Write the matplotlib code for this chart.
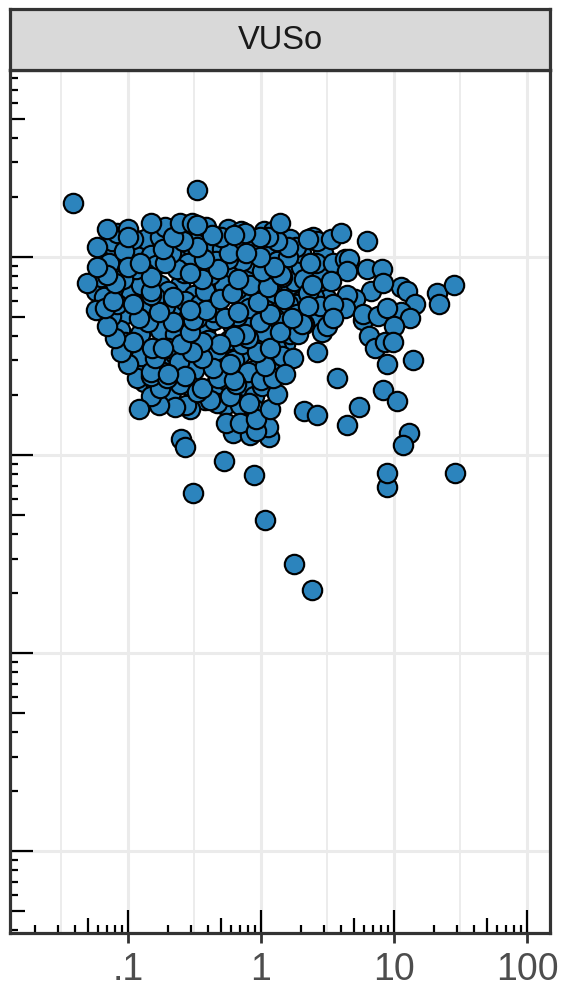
import numpy as np
import matplotlib
matplotlib.use('Agg')
import matplotlib.pyplot as plt

plt.rcParams['font.family'] = ['Liberation Sans', 'DejaVu Sans']

# values are log10 of the data
# stray points around the main cloud
tail_x = [-1.41, -0.48, -0.60, -0.57, -0.51, -0.28, -0.05, 0.03, 0.25, 0.38,
          0.95, 0.95, 1.46, 0.32, 0.42, 0.65, 0.74, 0.57, 1.11, 1.07,
          0.92, 1.02, 0.95, 1.14, 1.32, 1.34, 1.45, 0.42]
tail_y = [0.27, 0.34, -0.92, -0.96, -1.19, -1.03, -1.10, -1.33, -1.55, -1.68,
          -1.16, -1.09, -1.09, -0.78, -0.80, -0.85, -0.76, -0.61, -0.89, -0.95,
          -0.67, -0.73, -0.54, -0.52, -0.18, -0.24, -0.14, -0.48]

# right hand lobe
right_x = [0.39, 0.42, 0.53, 0.60, 0.80, 0.41, 0.54, 0.63, 0.66, 0.65,
           0.80, 0.91, 1.05, 1.10, 1.16, 0.83, 0.71, 0.65, 0.63, 0.77,
           0.77, 0.88, 1.05, 1.12, 0.95, 1.00, 0.81, 0.86, 0.93, 0.99,
           0.92, 0.32, 0.35, 0.44, 0.54, 0.53, 0.46, 0.50, 0.54, 0.24,
           0.32, 0.28, 0.38, 0.26, 0.20, 0.16, 0.35, 0.37, 0.35]
right_y = [0.10, 0.08, 0.09, 0.12, 0.08, -0.03, -0.03, -0.01, -0.01, -0.07,
           -0.06, -0.06, -0.15, -0.17, -0.24, -0.17, -0.21, -0.19, -0.26, -0.32,
           -0.29, -0.30, -0.28, -0.31, -0.26, -0.35, -0.40, -0.46, -0.43, -0.43,
           -0.13, -0.11, -0.18, -0.25, -0.24, -0.12, -0.38, -0.35, -0.31, -0.51,
           -0.34, -0.39, -0.14, 0.05, 0.00, -0.10, 0.09, -0.03, -0.25]

# inside of the cloud, mostly covered
back_x = [-1.10, -1.06, -0.95, -0.87, -0.83, -0.76, -0.68, -0.62, -0.53, -0.46,
          -0.40, -0.29, -0.20, -0.05, 0.05, 0.14, -1.06, -0.97, -0.89, -0.76,
          -0.61, -0.50, -0.37, -0.25, -0.12, -0.05, 0.08, 0.22, 0.29, -1.02,
          -1.06, -0.91, -0.76, -0.65, -0.42, -0.35, -0.22, -0.08, 0.08, 0.18,
          -0.87, -0.72, -0.65, -0.50, -0.38, -0.27, -0.16, -0.05, 0.03, -0.68,
          -0.53, -0.42, -0.35, -0.12, -0.05, 0.01, -0.27, -0.16, -0.05, 0.14,
          0.26, 0.41, 0.22, -0.12, -0.68, -0.57, -0.46, -0.98, -0.83]
back_y = [0.04, -0.03, 0.04, 0.09, 0.01, 0.10, 0.13, 0.03, 0.06, 0.10,
          0.04, 0.04, 0.06, 0.06, 0.01, -0.01, -0.17, -0.12, -0.18, -0.14,
          -0.14, -0.19, -0.17, -0.09, -0.07, -0.17, -0.19, -0.17, -0.22, -0.29,
          -0.37, -0.39, -0.37, -0.39, -0.37, -0.32, -0.34, -0.32, -0.37, -0.44,
          -0.52, -0.52, -0.49, -0.57, -0.49, -0.47, -0.49, -0.57, -0.49, -0.68,
          -0.65, -0.72, -0.65, -0.65, -0.70, -0.65, -0.75, -0.75, -0.77, -0.27,
          -0.24, -0.32, -0.39, -0.22, -0.27, -0.22, -0.24, -0.19, -0.24]

# second covered layer, fills the gaps between the others
mid_x = [-1.24, -1.20, -1.18, -1.14, -1.12, -1.08, -1.13, -1.08, -1.02, -0.99,
         -0.94, -0.90, -0.88, -0.80, -0.74, -0.70, -0.62, -0.58, -0.55, -0.45,
         -0.40, -0.36, -0.33, -0.30, -0.26, -0.24, -0.20, -0.18, -0.14, -0.10,
         -0.09, -0.06, -0.02, 0.00, 0.02, 0.04, 0.06, 0.11, 0.12, 0.16,
         0.18, 0.20, 0.21, 0.25, 0.27, 0.30, 0.12, 0.06, 0.00, -0.06,
         -0.14, -0.18, -0.25, -0.28, -0.34, -0.38, -0.42, -0.47, -0.49, -0.55,
         -0.58, -0.63, -0.68, -0.70, -0.72, -0.79, -0.80, -0.87, -0.90, -0.94,
         -0.96, -1.03, -1.04, -0.72, -0.41, -0.25, -0.15, 0.02, 0.09, 0.22,
         0.30, 0.47, 0.50, 0.40, 0.43, 0.47]
mid_y = [-0.17, -0.10, -0.20, -0.03, 0.08, 0.12, -0.30, -0.24, -0.43, -0.48,
         -0.55, -0.50, -0.63, -0.63, -0.58, -0.46, -0.53, -0.44, -0.31, -0.47,
         -0.42, -0.28, -0.47, -0.57, -0.62, -0.42, -0.52, -0.30, -0.44, -0.58,
         -0.26, -0.40, -0.46, -0.62, -0.38, -0.27, -0.54, -0.46, -0.28, -0.50,
         -0.33, -0.24, -0.08, -0.12, -0.29, -0.05, -0.02, -0.12, -0.12, -0.03,
         -0.02, -0.16, -0.01, -0.14, -0.02, -0.09, -0.17, 0.02, -0.08, -0.03,
         -0.08, -0.06, 0.02, -0.17, -0.25, -0.04, -0.20, -0.08, -0.14, -0.06,
         0.09, 0.03, -0.11, 0.15, 0.15, 0.14, 0.13, 0.13, 0.13, 0.09,
         0.02, -0.15, -0.21, -0.20, -0.08, 0.02]

# points that lie on top and can be read whole
front_x = [-0.21, -0.08, 0.06, 0.05, -0.26, -0.16, -0.04, -0.04, 0.07, -0.09,
           0.12, -0.33, -0.38, -0.53, -0.56, -0.65, -0.77, -0.83, -0.92, -0.76,
           -0.61, -0.48, -0.23, -0.44, -0.19, -0.32, 0.09, 0.18, -0.93, -0.83,
           -0.71, -0.57, 0.03, -0.20, -0.36, -0.44, -0.83, -0.70, -1.00, -1.05,
           -0.80, -0.23, -0.03, 0.07, -0.10, -0.12, -0.20, -0.31, -0.44, -0.52,
           -0.60, -0.82, -0.74, -0.96, -1.10, -1.16, -0.53, 0.14, 0.31, 0.23,
           -0.01, -0.27, -0.48, -0.51, -0.66, -0.85, -0.92, -0.77, -0.17, 0.07,
           -0.41, -0.53, -0.96, -1.24, -1.17, -1.11, -0.66, -0.83, -0.31, -0.02,
           0.17, -0.22, -0.83, -0.08, 0.05, -1.10, -1.31, -0.44, -0.17, 0.15,
           -0.53, -0.32, 0.01, 0.10, -0.83, -1.16, -1.23, -1.00, -0.91, -0.72,
           -0.43, -0.01, -0.24, -0.11, -0.74, -1.23, -0.48, 0.20, 0.12, -0.59,
           -0.66, 0.05, -0.01, -0.30, -0.37, -0.12, -0.20, -1.00, -1.16, -1.00,
           -0.61, -0.52, -0.83, -0.48, 0.14]
front_y = [-0.89, -0.90, -0.91, -0.86, -0.84, -0.84, -0.88, -0.82, -0.77, -0.74,
           -0.69, -0.74, -0.72, -0.77, -0.75, -0.76, -0.75, -0.70, -0.77, -0.66,
           -0.64, -0.68, -0.70, -0.66, -0.64, -0.61, -0.61, -0.59, -0.61, -0.60,
           -0.61, -0.60, -0.55, -0.62, -0.56, -0.51, -0.58, -0.59, -0.54, -0.48,
           -0.51, -0.54, -0.48, -0.46, -0.41, -0.39, -0.40, -0.44, -0.43, -0.48,
           -0.44, -0.46, -0.46, -0.43, -0.41, -0.35, -0.38, -0.38, -0.34, -0.31,
           -0.33, -0.31, -0.31, -0.32, -0.33, -0.33, -0.31, -0.28, -0.28, -0.29,
           -0.27, -0.27, -0.24, -0.27, -0.26, -0.22, -0.20, -0.19, -0.21, -0.23,
           -0.21, -0.18, -0.17, -0.14, -0.15, -0.13, -0.13, -0.11, -0.11, -0.09,
           -0.08, -0.06, -0.07, -0.05, -0.10, -0.09, -0.05, -0.05, -0.03, -0.03,
           -0.01, 0.00, 0.02, 0.02, 0.04, 0.05, 0.05, 0.05, 0.08, 0.08,
           0.10, 0.10, 0.10, 0.10, 0.11, 0.12, 0.11, 0.14, 0.14, 0.10,
           0.17, 0.17, 0.17, 0.16, 0.17]

x_labels = ['.1', '1', '10', '100']
x_major = [0.1, 1, 10, 100]
x_grid_minor = [0.0316, 0.316, 3.16, 31.6]
y_major = [1, 0.1, 0.01, 0.001]

W, H = 563, 986
fig = plt.figure(figsize=(W / 100, H / 100), dpi=100, facecolor='white')
ax = fig.add_axes([10 / W, 1 - 933 / H, 540 / W, 863 / H])
ax.set_xscale('log')
ax.set_yscale('log')
ax.set_xlim(10 ** -1.887, 10 ** 2.173)
ax.set_ylim(10 ** -3.414, 10 ** 0.944)

# grid
for v in x_major:
    ax.axvline(v, color='#EBEBEB', lw=2.2, zorder=1)
for v in x_grid_minor:
    ax.axvline(v, color='#EBEBEB', lw=1.3, zorder=1)
for v in y_major:
    ax.axhline(v, color='#EBEBEB', lw=2.2, zorder=1)

# points, back to front
lx = np.array(back_x + mid_x + tail_x + right_x + front_x)
ly = np.array(back_y + mid_y + tail_y + right_y + front_y)
ax.scatter(10 ** lx, 10 ** ly, s=195, color='#2C84BD', edgecolor='black',
           linewidth=1.55, zorder=3)

# log ticks drawn inside the panel
xspan = 863.0
yspan = 540.0
for d in [0.01, 0.1, 1, 10]:
    for m in range(2, 11):
        v = d * m
        if v < 0.015:
            continue
        size = 23 if m == 10 else (15 if m == 5 else 8)
        ax.plot([v, v], [0, size / xspan], color='black', lw=1.6,
                transform=ax.get_xaxis_transform(), zorder=4, solid_capstyle='butt')
for d in [0.0001, 0.001, 0.01, 0.1, 1]:
    for m in range(2, 11):
        v = d * m
        if v < 10 ** -3.414 or v > 8.5:
            continue
        size = 23 if m == 10 else (15 if m == 5 else 8)
        ax.plot([0, size / yspan], [v, v], color='black', lw=1.6,
                transform=ax.get_yaxis_transform(), zorder=4, solid_capstyle='butt')

ax.set_xticks(x_major)
ax.set_xticklabels(x_labels)
ax.xaxis.set_minor_locator(matplotlib.ticker.NullLocator())
ax.yaxis.set_major_locator(matplotlib.ticker.NullLocator())
ax.yaxis.set_minor_locator(matplotlib.ticker.NullLocator())
ax.tick_params(axis='x', which='major', direction='out', length=7.5, width=2,
               color='#333333', labelcolor='#4D4D4D', labelsize=27, pad=6)
for s in ax.spines.values():
    s.set_color('#333333')
    s.set_linewidth(2.3)
    s.set_zorder(5)

# strip on top
strip = fig.add_axes([10 / W, 1 - 70 / H, 540 / W, 61 / H], facecolor='#D9D9D9')
strip.set_xticks([])
strip.set_yticks([])
for s in strip.spines.values():
    s.set_color('#333333')
    s.set_linewidth(2.3)
strip.text(0.5, 0.48, 'VUSo', transform=strip.transAxes, ha='center', va='center',
           fontsize=23.5, color='#1A1A1A')

plt.savefig('out.png', dpi=100)
